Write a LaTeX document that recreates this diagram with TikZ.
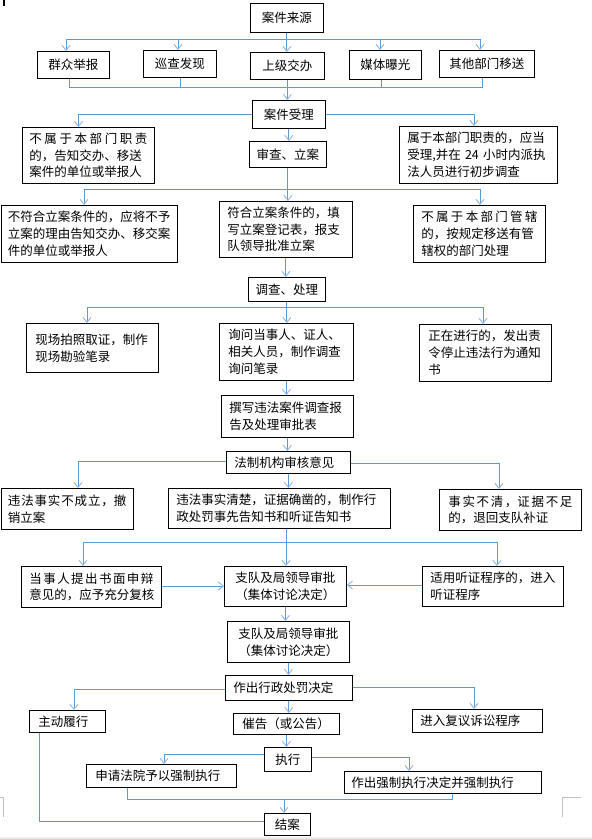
\documentclass[tikz,border=0pt]{standalone}
\usepackage{fontspec}
\setmainfont{Noto Sans CJK SC}
\usetikzlibrary{arrows.meta}
\definecolor{lineblue}{RGB}{91,155,213}
\definecolor{arrowblue}{RGB}{141,182,228}
\tikzset{
  box/.style={draw=black, line width=0.8pt, fill=white, inner ysep=0pt,
    font=\fontsize{12.5pt}{16.8pt}\selectfont},
  conn/.style={draw=lineblue, line width=0.9pt},
  arr/.style={conn, -{Straight Barb[length=5pt,width=8pt,color=arrowblue]}},
  cornermark/.style={draw=black!25, line width=0.8pt}
}
\newcommand\spr[1]{\makebox[\linewidth][s]{#1}}
\newcommand\bx[8][left]{%
  \pgfmathsetlengthmacro\bxw{(#5-#3-2*#7)*1pt}%
  \pgfmathsetlengthmacro\bxh{(#6-#4)*1pt}%
  \node[box, align=#1, text width=\bxw, inner xsep=#7pt, minimum height=\bxh, anchor=north west] (#2) at (#3,#4) {#8};%
}
\begin{document}
\begin{tikzpicture}[x=1pt,y=-1pt]
\useasboundingbox (0,0) rectangle (592,839);
\fill[black!8] (0,836.5) rectangle (592,839);
\draw[black, line width=1.5pt] (4,0) -- (4,6);
\draw[cornermark] (0,797) -- (3,797) -- (3,817);
\draw[cornermark] (581,797) -- (562,797) -- (562,817);

% boxes
\bx[center]{src}{250}{3}{323}{32}{4}{案件来源}
\bx[center]{s1}{37}{51}{109}{78}{4}{群众举报}
\bx[center]{s2}{143}{50}{216}{77}{4}{巡查发现}
\bx[center]{s3}{250}{52}{324}{79}{4}{上级交办}
\bx[center]{s4}{349}{50}{421}{79}{4}{媒体曝光}
\bx[center]{s5}{439}{50}{534}{77}{4}{其他部门移送}
\bx[center]{acc}{252}{100}{325}{128}{4}{案件受理}
\bx{n1}{22}{127}{154}{183}{7}{\spr{不\hfill 属\hfill 于\hfill 本\hfill 部\hfill 门\hfill 职\hfill 责}\\的，告知交办、移送\\案件的单位或举报人}
\bx[center]{rev}{249}{141}{326}{167}{4}{审查、立案}
\bx{n2}{399}{126}{557}{183}{8}{属于本部门职责的，应当\\受理,并在 24 小时内派执\\法人员进行初步调查}
\bx{n3}{0.5}{205}{177}{262}{7}{不符合立案条件的，应将不予\\立案的理由告知交办、移交案\\件的单位或举报人}
\bx{n4}{219}{201}{352}{257}{8}{符合立案条件的，填\\写立案登记表，报支\\队领导批准立案}
\bx{n5}{413}{205}{545}{262}{8}{\spr{不\hfill 属\hfill 于\hfill 本\hfill 部\hfill 门\hfill 管\hfill 辖}\\的，按规定移送有管\\辖权的部门处理}
\bx[center]{inv}{248}{277}{325}{301}{4}{调查、处理}
\bx{n6}{26}{323}{158}{372}{9}{现场拍照取证，制作\\现场勘验笔录}
\bx{n7}{219}{323}{353}{380}{9}{询问当事人、证人、\\相关人员，制作调查\\询问笔录}
\bx{n8}{419}{324}{551}{381}{9}{正在进行的，发出责\\令停止违法行为通知\\书}
\bx{rep}{221}{395}{353}{437}{8}{撰写违法案件调查报\\告及处理审批表}
\bx{law}{226}{451}{350}{473}{8}{法制机构审核意见}
\bx{n9}{0.5}{488}{133}{529}{7}{\spr{违\hfill 法\hfill 事\hfill 实\hfill 不\hfill 成\hfill 立\hfill ，撤}\\销立案}
\bx{n10}{168}{488}{390}{528}{8}{违法事实清楚，证据确凿的，制作行\\政处罚事先告知书和听证告知书}
\bx{n11}{439}{489}{581}{530}{9}{\spr{事\hfill 实\hfill 不\hfill 清\hfill ，证\hfill 据\hfill 不\hfill 足}\\的，退回支队补证}
\bx{n12}{21}{566}{161}{607}{8}{\spr{当\hfill 事\hfill 人\hfill 提\hfill 出\hfill 书\hfill 面\hfill 申\hfill 辩}\\意见的，应予充分复核}
\bx[center]{ap1}{224}{566}{346}{606}{4}{支队及局领导审批\\（集体讨论决定）}
\bx{n13}{422}{566}{563}{606}{8}{适用听证程序的，进入\\听证程序}
\bx[center]{ap2}{227}{621}{349}{662}{4}{支队及局领导审批\\（集体讨论决定）}
\bx{dec}{225}{675}{352}{700}{8}{作出行政处罚决定}
\bx{zd}{29}{710}{105}{732}{9}{主动履行}
\bx{cg}{233}{713}{339}{734}{9}{催告（或公告）}
\bx{fy}{412}{709}{542}{732}{8}{进入复议诉讼程序}
\bx[center]{zx}{264}{747}{311}{771}{4}{执行}
\bx{sq}{86}{764}{236}{787}{9}{申请法院予以强制执行}
\bx{qz}{344}{771}{541}{793}{7}{作出强制执行决定并强制执行}
\bx[center]{ja}{264}{813}{310}{835}{4}{结案}

% connectors: sources
\coordinate (tb1) at (66,39); \coordinate (tb2) at (178,39);
\coordinate (tb4) at (380,39); \coordinate (tb5) at (480,39);
\draw[conn] (tb1) -- (tb5);
\draw[arr] (src.south) -- (src.south |- s3.north);
\draw[arr] (tb1) -- (tb1 |- s1.north);
\draw[arr] (tb2) -- (tb2 |- s2.north);
\draw[arr] (tb4) -- (tb4 |- s4.north);
\draw[arr] (tb5) -- (tb5 |- s5.north);

\coordinate (mb1) at (69,87); \coordinate (mb2) at (180,87);
\coordinate (mb4) at (381,87); \coordinate (mb5) at (482,87);
\draw[conn] (mb1 |- s1.south) -- (mb1) -- (mb5) -- (mb5 |- s5.south);
\draw[conn] (mb2 |- s2.south) -- (mb2);
\draw[conn] (mb4 |- s4.south) -- (mb4);
\draw[arr] (s3.south) -- (s3.south |- acc.north);

% acceptance
\coordinate (c1) at (78.5,114); \coordinate (c2) at (474,114);
\draw[arr] (acc.west |- c1) -- (c1) -- (c1 |- n1.north);
\draw[arr] (acc.east |- c2) -- (c2) -- (c2 |- n2.north);
\draw[arr] (acc.south) -- (acc.south |- rev.north);

% review
\coordinate (d1) at (84,189); \coordinate (d2) at (480,189);
\draw[conn] (d1) -- (d2);
\draw[arr] (rev.south) -- (rev.south |- n4.north);
\draw[arr] (d1) -- (d1 |- n3.north);
\draw[arr] (d2) -- (d2 |- n5.north);
\draw[arr] (n4.south) -- (n4.south |- inv.north);

% investigation
\coordinate (e1) at (87,307); \coordinate (e2) at (483,307);
\draw[conn] (e1) -- (e2);
\draw[arr] (inv.south) -- (inv.south |- n7.north);
\draw[arr] (e1) -- (e1 |- n6.north);
\draw[arr] (e2) -- (e2 |- n8.north);
\draw[arr] (n7.south) -- (n7.south |- rep.north);
\draw[arr] (rep.south) -- (rep.south |- law.north);

% legal review
\coordinate (f1) at (78,461); \coordinate (f2) at (499,463);
\draw[arr] (law.west |- f1) -- (f1) -- (f1 |- n9.north);
\draw[arr] (law.east |- f2) -- (f2) -- (f2 |- n11.north);
\draw[arr] (law.south) -- (law.south |- n10.north);

% notices
\coordinate (g0) at (286,542); \coordinate (g1) at (83,542); \coordinate (g2) at (497,542);
\draw[conn] (g1) -- (g2);
\draw[conn] (g0 |- n10.south) -- (g0);
\draw[arr] (g0) -- (g0 |- ap1.north);
\draw[arr] (g1) -- (g1 |- n12.north);
\draw[arr] (g2) -- (g2 |- n13.north);
\coordinate (h1) at (0,586); \coordinate (h2) at (0,585);
\draw[arr] (n12.east |- h1) -- (ap1.west |- h1);
\draw[arr] (n13.west |- h2) -- (ap1.east |- h2);
\draw[arr] (ap1.south) -- (ap1.south |- ap2.north);
\draw[arr] (ap2.south) -- (ap2.south |- dec.north);

% decision
\coordinate (k1) at (74,689); \coordinate (k2) at (474,687);
\draw[arr] (dec.west |- k1) -- (k1) -- (k1 |- zd.north);
\draw[arr] (dec.east |- k2) -- (k2) -- (k2 |- fy.north);
\draw[arr] (dec.south) -- (dec.south |- cg.north);
\draw[arr] (cg.south) -- (cg.south |- zx.north);

% execution
\coordinate (m1) at (164,754); \coordinate (m2) at (409,757);
\draw[arr] (zx.west |- m1) -- (m1) -- (m1 |- sq.north);
\draw[arr] (zx.east |- m2) -- (m2) -- (m2 |- qz.north);
\coordinate (p0) at (284,799); \coordinate (p1) at (127,799); \coordinate (p2) at (452,799);
\draw[conn] (p1 |- sq.south) -- (p1) -- (p2) -- (p2 |- qz.south);
\draw[arr] (p0) -- (p0 |- ja.north);
\coordinate (q1) at (39,821);
\draw[conn] (q1 |- zd.south) -- (q1) -- (ja.west |- q1);
\end{tikzpicture}
\end{document}
